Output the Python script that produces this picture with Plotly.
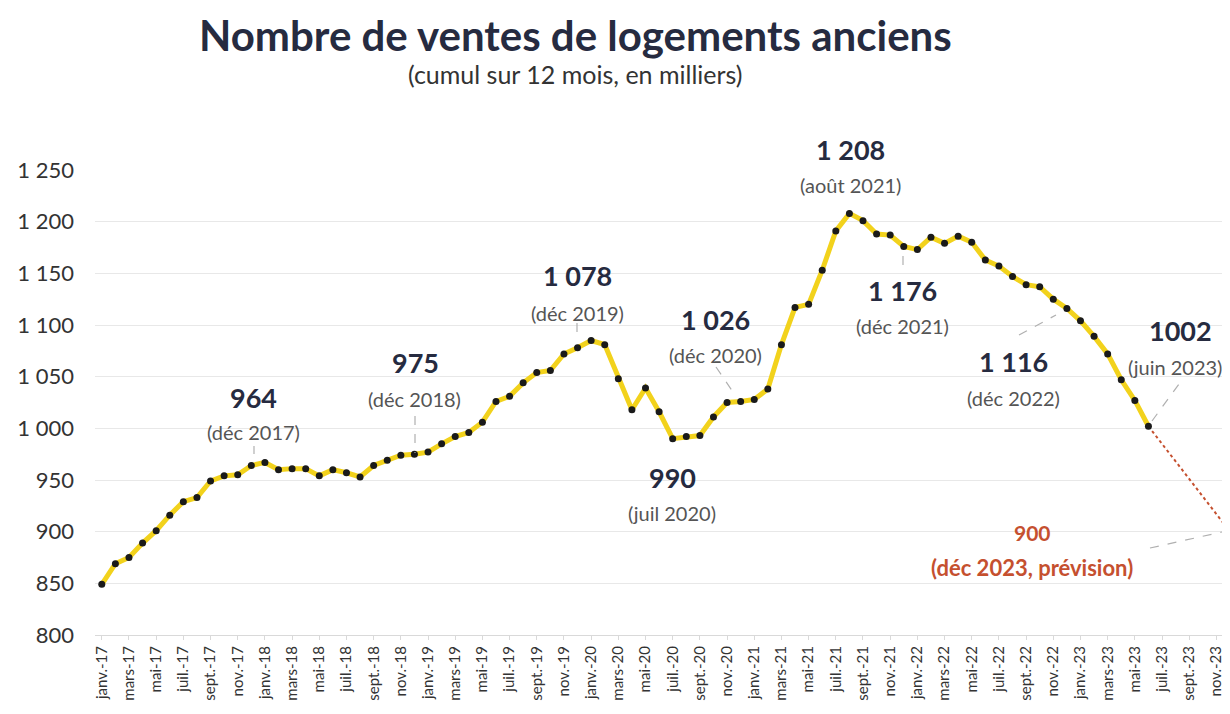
import plotly.graph_objects as go

# --- data (thousands of sales, rolling 12 months) ---
month_abbr = ["janv.", "févr.", "mars", "avr.", "mai", "juin",
              "juil.", "août", "sept.", "oct.", "nov.", "déc."]
years = ["17", "18", "19", "20", "21", "22", "23"]
months = [f"{m}-{y}" for y in years for m in month_abbr]  # janv.-17 ... déc.-23

sales = [
    849, 869, 875, 889, 901, 916, 929, 933, 949, 954, 955, 964,            # 2017
    967, 960, 961, 961, 954, 960, 957, 953, 964, 969, 974, 975,            # 2018
    977, 985, 992, 996, 1006, 1026, 1031, 1044, 1054, 1056, 1072, 1078,    # 2019
    1085, 1081, 1048, 1018, 1039, 1016, 990, 992, 993, 1011, 1025, 1026,   # 2020
    1028, 1038, 1081, 1117, 1120, 1153, 1191, 1208, 1201, 1188, 1187, 1176,  # 2021
    1173, 1185, 1179, 1186, 1180, 1163, 1157, 1147, 1139, 1137, 1125, 1116,  # 2022
    1104, 1089, 1072, 1047, 1027, 1002,                                    # 2023
]
forecast_x = ["juin-23", "déc.-23"]
forecast_y = [1002, 900]

# labelled points: (value text, date text, value px pos, date px pos)
labels = [
    ("964", "(déc 2017)", (253, 397), (253, 432)),
    ("975", "(déc 2018)", (415, 362), (414, 399)),
    ("1 078", "(déc 2019)", (577, 275), (577, 313)),
    ("1 026", "(déc 2020)", (715, 319), (715, 355)),
    ("990", "(juil 2020)", (672, 477), (672, 513)),
    ("1 208", "(août 2021)", (850, 149), (850, 185)),
    ("1 176", "(déc 2021)", (902, 290), (902, 326)),
    ("1 116", "(déc 2022)", (1013, 361), (1013, 398)),
    ("1002", "(juin 2023)", (1180, 330), (1175, 367)),
]
leaders = [
    ((254, 446), (254, 454)),
    ((415, 416), (415, 453)),
    ((577, 323), (577, 336)),
    ((716, 367), (733, 392)),
    ((903, 256), (903, 267)),
    ((1019, 335), (1056, 315)),
    ((1152, 421), (1182, 380)),
    ((1150, 548), (1222, 532)),
]

# page has an 8px body margin, so the figure is drawn 8px smaller
OFF = 8
W, H = 1230 - OFF, 714 - OFF
L, R, T, B = 95 - OFF, 0, 170 - OFF, 79
PW, PH = W - L - R, H - T - B


def px(x):
    return (x - OFF - L) / PW


def py(y):
    return (H - B - (y - OFF)) / PH


NAVY = "#262b40"
GREY = "#555555"
RED = "#c5502f"
FONT = "Lato"


def note(x, y, text, size, color):
    fig.add_annotation(x=px(x), y=py(y), xref="paper", yref="paper",
                       xanchor="center", yanchor="middle",
                       text=text, showarrow=False,
                       font=dict(size=size, color=color, family=FONT))


fig = go.Figure()

fig.add_trace(go.Scatter(
    x=forecast_x, y=forecast_y, mode="lines+markers",
    line=dict(color=RED, width=2, dash="dot"),
    marker=dict(color=[RED, RED], size=[0, 7]),
    cliponaxis=False, showlegend=False,
))
fig.add_trace(go.Scatter(
    x=months[:len(sales)], y=sales, mode="lines+markers",
    line=dict(color="#f2d21c", width=5),
    marker=dict(color="#1a1a1a", size=7),
    showlegend=False,
))

for val, date, (vx, vy), (dx, dy) in labels:
    note(vx, vy, f"<b>{val}</b>", 27, NAVY)
    note(dx, dy, date, 20, GREY)

note(1032, 532, "<b>900</b>", 21, RED)
note(1032, 567, "<b>(déc 2023, prévision)</b>", 22, RED)

for (x0, y0), (x1, y1) in leaders:
    fig.add_shape(type="line", xref="paper", yref="paper",
                  x0=px(x0), y0=py(y0), x1=px(x1), y1=py(y1),
                  line=dict(color="#b0b0b0", width=1.2, dash="dash"))

note(575, 35, "<b>Nombre de ventes de logements anciens</b>", 42, NAVY)
note(575, 74, "(cumul sur 12 mois, en milliers)", 25, "#333333")

fig.update_layout(
    width=W, height=H,
    margin=dict(l=L, r=R, t=T, b=B),
    paper_bgcolor="white", plot_bgcolor="white",
    separators=", ",
    font=dict(family=FONT, color="#333333"),
    xaxis=dict(
        type="category", categoryorder="array", categoryarray=months,
        range=[-0.5, 83.0],
        tickmode="array", tickvals=months[::2], tickangle=-90,
        tickfont=dict(size=15, color="#333333"),
        showgrid=False, showline=True, linecolor="#d9d9d9",
        ticks="outside", ticklen=4, tickcolor="#d9d9d9",
    ),
    yaxis=dict(
        range=[800, 1250], dtick=50, tickformat=",d",
        tickfont=dict(size=22, color="#333333"),
        showgrid=True, gridcolor="#e8e8e8", zeroline=False,
        ticklabelstandoff=20,
    ),
)

fig.write_html("out.html")
